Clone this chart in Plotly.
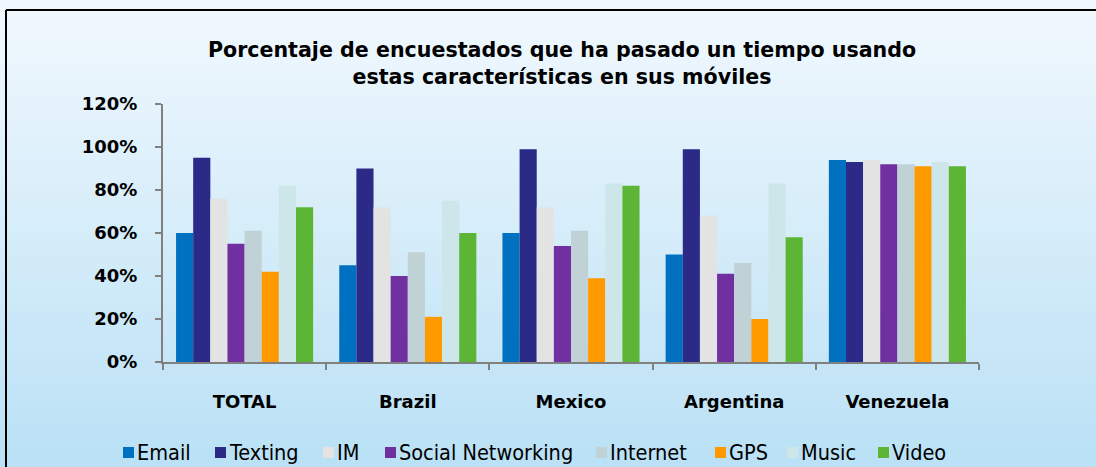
import plotly.graph_objects as go

categories = ["TOTAL", "Brazil", "Mexico", "Argentina", "Venezuela"]
series_names = ["Email", "Texting", "IM", "Social Networking", "Internet", "GPS", "Music", "Video"]

email = [0.60, 0.45, 0.60, 0.50, 0.94]
texting = [0.95, 0.90, 0.99, 0.99, 0.93]
im = [0.76, 0.72, 0.72, 0.68, 0.94]
social = [0.55, 0.40, 0.54, 0.41, 0.92]
internet = [0.61, 0.51, 0.61, 0.46, 0.92]
gps = [0.42, 0.21, 0.39, 0.20, 0.91]
music = [0.82, 0.75, 0.83, 0.83, 0.93]
video = [0.72, 0.60, 0.82, 0.58, 0.91]

series_values = [email, texting, im, social, internet, gps, music, video]
colors = ["#0070C0", "#2B2A86", "#E3E3E3", "#7030A0", "#C0D2D6", "#FF9900", "#CDE6E9", "#5DB535"]

W, H = 1096, 467
L, R, T, B = 163, 979, 104, 362  # plot area in pixels


def px_x(p):
    return (p - L) / (R - L)


def px_y(p):
    return (B - p) / (B - T)


fig = go.Figure()
for name, vals, col in zip(series_names, series_values, colors):
    fig.add_trace(go.Bar(name=name, x=categories, y=vals, showlegend=False,
                         marker=dict(color=col, line=dict(width=0))))

# background gradient in horizontal bands
top_c = (241, 248, 254)
bot_c = (186, 225, 245)
n = 48
shapes = []
for i in range(n):
    f = i / (n - 1)
    c = tuple(round(top_c[k] + (bot_c[k] - top_c[k]) * f) for k in range(3))
    y0 = i * H / n
    y1 = (i + 1) * H / n + 1
    shapes.append(dict(type="rect", xref="paper", yref="paper", layer="below",
                       x0=px_x(-5), x1=px_x(W + 5), y0=px_y(y1), y1=px_y(y0),
                       fillcolor="rgb(%d,%d,%d)" % c, line=dict(width=0)))
# frame (top and left edges visible)
shapes.append(dict(type="line", xref="paper", yref="paper", x0=px_x(6), x1=px_x(W + 5),
                   y0=px_y(10), y1=px_y(10), line=dict(color="black", width=2)))
shapes.append(dict(type="line", xref="paper", yref="paper", x0=px_x(6), x1=px_x(6),
                   y0=px_y(10), y1=px_y(H + 5), line=dict(color="black", width=2)))

# hand-placed legend (marker left edge in px)
legend_x = [123, 215, 323, 385, 596, 715, 787, 878]
legend_y = 452
annotations = []
for name, col, lx in zip(series_names, colors, legend_x):
    shapes.append(dict(type="rect", xref="paper", yref="paper",
                       x0=px_x(lx), x1=px_x(lx + 11), y0=px_y(legend_y + 6), y1=px_y(legend_y - 5),
                       fillcolor=col, line=dict(width=0)))
    annotations.append(dict(text=name, xref="paper", yref="paper", x=px_x(lx + 12), y=px_y(legend_y),
                            xanchor="left", yanchor="middle", showarrow=False,
                            font=dict(family="DejaVu Sans Condensed", size=21.5, color="black")))

fig.update_layout(
    width=W, height=H,
    margin=dict(l=L, r=W - R, t=T, b=H - B, pad=0, autoexpand=False),
    paper_bgcolor="#DDEFFA", plot_bgcolor="rgba(0,0,0,0)",
    barmode="group", bargap=0.16, bargroupgap=0,
    shapes=shapes, annotations=annotations, showlegend=False,
    title=dict(text="Porcentaje de encuestados que ha pasado un tiempo usando<br>estas características en sus móviles",
               font=dict(family="DejaVu Sans", size=20.6, color="black", weight="bold"),
               x=562 / W, xanchor="center", y=1 - 57 / H, yanchor="top"),
    xaxis=dict(showline=True, linecolor="#808080", linewidth=2, ticks="outside", tickson="boundaries",
               ticklen=6, tickcolor="#808080", tickwidth=2, showgrid=False,
               tickfont=dict(family="DejaVu Sans", size=18, color="black", weight="bold"),
               ticklabelstandoff=22),
    yaxis=dict(range=[0, 1.2], dtick=0.2, tickformat=".0%", showline=True, linecolor="#808080", linewidth=2,
               ticks="outside", ticklen=6, tickcolor="#808080", tickwidth=2, showgrid=False, zeroline=False,
               tickfont=dict(family="DejaVu Sans", size=18, color="black", weight="bold"),
               ticklabelstandoff=14),
)

fig.write_html("out.html", config={"displayModeBar": False},
               post_script="document.body.style.margin='0';")
